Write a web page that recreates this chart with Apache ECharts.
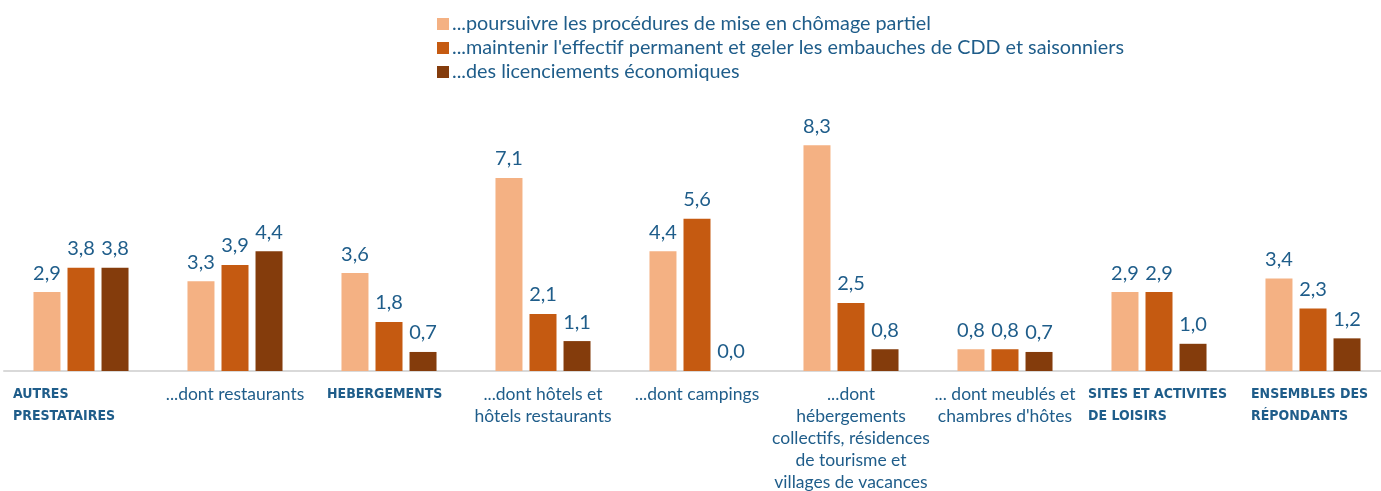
<!DOCTYPE html>
<html>
<head>
<meta charset="utf-8">
<script src="https://cdn.jsdelivr.net/npm/echarts@6/dist/echarts.min.js"></script>
<style>
  html, body { margin: 0; padding: 0; background: #fff; }
  #chart { width: 1381px; height: 491px; }
</style>
</head>
<body>
<div id="chart"></div>
<script>
// categories (bold ones are the main groups)
var categories = [
	'AUTRES\nPRESTATAIRES',
	'...dont restaurants',
	'HEBERGEMENTS',
	'...dont hôtels et\nhôtels restaurants',
	'...dont campings',
	'...dont\nhébergements\ncollectifs, résidences\nde tourisme et\nvillages de vacances',
	'... dont meublés et\nchambres d\'hôtes',
	'SITES ET ACTIVITES\nDE LOISIRS',
	'ENSEMBLES DES\nRÉPONDANTS'
];
// rich style name per category ('' = normal label)
var boldCats = ['b136', '', 'b124', '', '', '', '', 'b142', 'b124'];

var seriesNames = [
	'...poursuivre les procédures de mise en chômage partiel',
	'...maintenir l\'effectif permanent et geler les embauches de CDD et saisonniers',
	'...des licenciements économiques'
];
var chomage = [2.9, 3.3, 3.6, 7.1, 4.4, 8.3, 0.8, 2.9, 3.4];
var maintenir = [3.8, 3.9, 1.8, 2.1, 5.6, 2.5, 0.8, 2.9, 2.3];
var licenciements = [3.8, 4.4, 0.7, 1.1, 0.0, 0.8, 0.7, 1.0, 1.2];

var colors = ['#f4b183', '#c55a11', '#843c0c'];
var textColor = '#1f5d8a';

var dom = document.getElementById('chart');
var myChart = echarts.init(dom);

function labelFmt(p) {
	return p.value.toFixed(1).replace('.', ',');
}

function mkSeries(name, data) {
	return {
		name: name,
		type: 'bar',
		data: data,
		barWidth: 27,
		barGap: '26%',
		label: {
			show: true,
			position: 'top',
			distance: 9,
			color: textColor,
			fontFamily: 'Lato',
			fontSize: 20,
			formatter: labelFmt
		}
	};
}

function boldStyle(w) {
	return {
		width: w,
		align: 'left',
		fontFamily: 'DejaVu Sans Condensed',
		fontWeight: 'bold',
		fontSize: 14,
		lineHeight: 22,
		color: textColor
	};
}

var option = {
	animation: false,
	color: colors,
	legend: {
		orient: 'vertical',
		left: 432,
		top: 9,
		itemWidth: 12,
		itemHeight: 12,
		itemGap: 4,
		icon: 'rect',
		textStyle: { color: textColor, fontFamily: 'Lato', fontSize: 19.8, padding: [0, 0, 0, -2] },
		data: seriesNames
	},
	grid: {
		left: 4,
		width: 1386,
		top: 99,
		bottom: 120,
		containLabel: false,
		outerBoundsMode: 'none'
	},
	xAxis: {
		type: 'category',
		data: categories,
		axisTick: { show: false },
		axisLine: { lineStyle: { color: '#d9d9d9', width: 2 } },
		axisLabel: {
			interval: 0,
			margin: 12,
			color: textColor,
			fontFamily: 'Lato',
			fontSize: 17.5,
			lineHeight: 22,
			formatter: function (v, i) {
				var st = boldCats[i];
				if (st) {
					return v.split('\n').map(function (s) { return '{' + st + '|' + s + '}'; }).join('\n');
				}
				return v;
			},
			rich: {
				b124: boldStyle(124),
				b136: boldStyle(136),
				b142: boldStyle(142)
			}
		}
	},
	yAxis: {
		type: 'value',
		min: 0,
		max: 10,
		show: false,
		splitLine: { show: false }
	},
	series: [
		mkSeries(seriesNames[0], chomage),
		mkSeries(seriesNames[1], maintenir),
		mkSeries(seriesNames[2], licenciements)
	]
};

myChart.setOption(option, true);
</script>
</body>
</html>
